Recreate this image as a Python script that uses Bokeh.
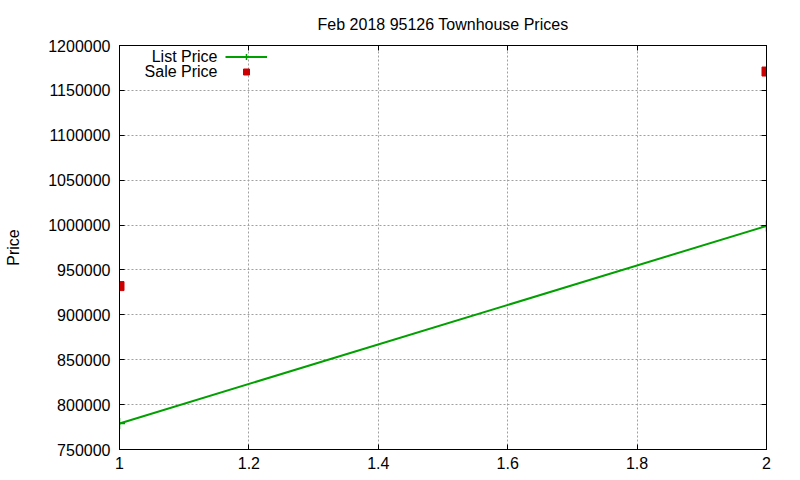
from bokeh.plotting import figure
from bokeh.models import (Range1d, FixedTicker, LinearAxis, Legend, LegendItem, Label,
                          CustomJSTickFormatter, ColumnDataSource)
from bokeh.embed import file_html
from bokeh.resources import INLINE

# ---- data ----
x_vals = [1, 2]
list_price = [779000, 999000]
sale_price = [932000, 1171000]
x_ticks = [1, 1.2, 1.4, 1.6, 1.8, 2]
x_tick_labels = ["1", "1.2", "1.4", "1.6", "1.8", "2"]
y_ticks = [750000, 800000, 850000, 900000, 950000, 1000000, 1050000, 1100000, 1150000, 1200000]
y_tick_labels = [str(v) for v in y_ticks]
title_text = "Feb 2018 95126 Townhouse Prices"
y_label = "Price"
series_names = ["List Price", "Sale Price"]

FONT = "Liberation Sans"
FS = "16px"
GREEN = "#00a000"
RED = "#cc0000"

p = figure(width=792, height=472, output_backend="svg", toolbar_location=None,
           x_range=Range1d(1, 2), y_range=Range1d(750000, 1200000),
           min_border_left=119, min_border_right=26, min_border_top=45, min_border_bottom=23,
           frame_width=647, frame_height=404, title=title_text)

p.title.align = "center"
p.title.text_font = FONT
p.title.text_font_size = FS
p.title.text_font_style = "normal"
p.title.text_color = "#000000"
p.title.standoff = 26

p.background_fill_color = "white"
p.border_fill_color = "white"
p.outline_line_color = "black"
p.outline_line_width = 1

src = ColumnDataSource(dict(x=x_vals, lp=list_price, sp=sale_price))

# grid
for g in (p.xgrid, p.ygrid):
    g.grid_line_color = "#a0a0a0"
    g.grid_line_dash = "2 2"
    g.grid_line_width = 1
p.xgrid.ticker = FixedTicker(ticks=x_ticks)
p.ygrid.ticker = FixedTicker(ticks=y_ticks)

# axes
xa = p.xaxis[0]
ya = p.yaxis[0]
xa.ticker = FixedTicker(ticks=x_ticks)
ya.ticker = FixedTicker(ticks=y_ticks)
xa.major_label_overrides = {t: l for t, l in zip(x_ticks, x_tick_labels)}
ya.major_label_overrides = {t: l for t, l in zip(y_ticks, y_tick_labels)}
for ax in (xa, ya):
    ax.axis_line_color = "black"
    ax.major_tick_in = 5
    ax.major_tick_out = 0
    ax.minor_tick_line_color = None
    ax.major_tick_line_color = "black"
    ax.major_label_text_font = FONT
    ax.major_label_text_font_size = FS
    ax.major_label_text_color = "black"
xa.major_label_standoff = 7
ya.major_label_standoff = 9
ya.axis_label = y_label
ya.axis_label_text_font = FONT
ya.axis_label_text_font_size = FS
ya.axis_label_text_font_style = "normal"
ya.axis_label_text_color = "black"
ya.axis_label_standoff = 23

blank = CustomJSTickFormatter(code="return ''")
ra = LinearAxis(ticker=FixedTicker(ticks=y_ticks), formatter=blank, major_tick_in=5,
                major_tick_out=0, minor_tick_line_color=None, major_label_standoff=0,
                axis_line_color="black")
ta = LinearAxis(ticker=FixedTicker(ticks=x_ticks), formatter=blank, major_tick_in=5,
                major_tick_out=0, minor_tick_line_color=None, major_label_standoff=0,
                axis_line_color="black")
p.add_layout(ra, "right")
p.add_layout(ta, "above")

# data
lp_line = p.line("x", "lp", source=src, line_color=GREEN, line_width=2)
lp_pts = p.scatter("x", "lp", source=src, marker="cross", size=11, line_color=GREEN, line_width=1.5)
sp_pts = p.scatter("x", "sp", source=src, marker="square", size=9, fill_color=RED, line_color=RED)

legend = Legend(items=[LegendItem(label=" ", renderers=[lp_line, lp_pts]),
                       LegendItem(label=" ", renderers=[sp_pts])],
                location=(106, 370), padding=0, margin=0, spacing=0,
                glyph_width=42, glyph_height=15, label_height=15, label_width=1,
                label_standoff=0, border_line_color=None, background_fill_alpha=0,
                label_text_font_size="1px")
p.add_layout(legend, "center")

for name, yy in zip(series_names, [393, 378]):
    p.add_layout(Label(x=98, y=yy, x_units="screen", y_units="screen", text=name,
                       text_align="right", text_baseline="middle", text_font=FONT,
                       text_font_size=FS, text_color="black"))

open("out.html", "w").write(file_html(p, INLINE))
